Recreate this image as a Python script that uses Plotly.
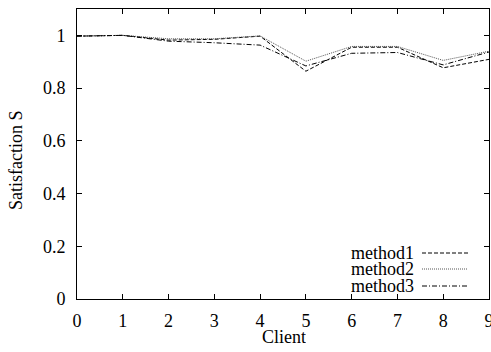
import plotly.graph_objects as go

clients = [0, 1, 2, 3, 4, 5, 6, 7, 8, 9]
method1 = [0.997, 1.0, 0.982, 0.985, 0.997, 0.864, 0.955, 0.955, 0.877, 0.909]
method2 = [0.997, 1.0, 0.987, 0.987, 0.998, 0.902, 0.958, 0.958, 0.905, 0.940]
method3 = [0.997, 1.0, 0.978, 0.972, 0.963, 0.884, 0.932, 0.935, 0.888, 0.937]
names = ["method1", "method2", "method3"]
y_ticks = [0, 0.2, 0.4, 0.6, 0.8, 1]
y_tick_text = ["0", "0.2", "0.4", "0.6", "0.8", "1"]

W, H = 491, 352
SL, SR, ST, SB = 77, 489, 9, 299  # plot area in pixels
L, T, R, B = SL, ST, W - SR, H - SB
pw, ph = SR - SL, SB - ST

FONT = dict(family="Liberation Serif, Times New Roman, serif", size=18, color="black")
styles = [
    dict(color="black", width=1, dash="4px,2px"),
    dict(color="#555555", width=1, dash="1px,1px"),
    dict(color="black", width=1, dash="5px,2px,1px,2px"),
]

fig = go.Figure()
for name, ys, st in zip(names, [method1, method2, method3], styles):
    fig.add_trace(go.Scatter(x=clients, y=ys, mode="lines", name=name, line=st, showlegend=False))

def px_x(p):
    return (p - SL) / pw

def px_y(p):
    return (SB - p) / ph

rows = [253, 269, 286]
for name, st, ry in zip(names, styles, rows):
    fig.add_annotation(x=px_x(416), y=px_y(ry), xref="paper", yref="paper", text=name,
                       showarrow=False, xanchor="right", yanchor="middle", font=FONT,
                       height=16, valign="middle")
    fig.add_shape(type="line", xref="paper", yref="paper",
                  x0=px_x(422), x1=px_x(468), y0=px_y(ry), y1=px_y(ry), line=st)

fig.add_annotation(x=px_x(16), y=px_y(160), xref="paper", yref="paper", text="Satisfaction S",
                   textangle=-90, showarrow=False, xanchor="center", yanchor="middle", font=FONT)
fig.add_annotation(x=px_x(284), y=px_y(337), xref="paper", yref="paper", text="Client",
                   showarrow=False, xanchor="center", yanchor="middle", font=FONT, height=16)

fig.update_layout(
    width=W, height=H,
    margin=dict(l=L, r=R, t=T, b=B, pad=0),
    paper_bgcolor="white", plot_bgcolor="white",
    font=FONT,
    xaxis=dict(range=[0, 9], tickmode="array", tickvals=clients, ticktext=[str(c) for c in clients],
               showline=True, linecolor="black", linewidth=1, mirror="ticks",
               ticks="inside", ticklen=5, tickcolor="black", showgrid=False, zeroline=False,
               automargin=False, ticklabelstandoff=5, ticklabeloverflow="allow"),
    yaxis=dict(range=[0, 1.1], tickmode="array", tickvals=y_ticks, ticktext=y_tick_text,
               showline=True, linecolor="black", linewidth=1, mirror="ticks",
               ticks="inside", ticklen=5, tickcolor="black", showgrid=False, zeroline=False,
               automargin=False, ticklabelstandoff=7, ticklabeloverflow="allow"),
)

fig.write_html(
    "out.html",
    config={"displayModeBar": False},
    post_script="document.body.style.margin='0';document.body.style.overflow='hidden';"
                "document.documentElement.style.overflow='hidden';",
)
